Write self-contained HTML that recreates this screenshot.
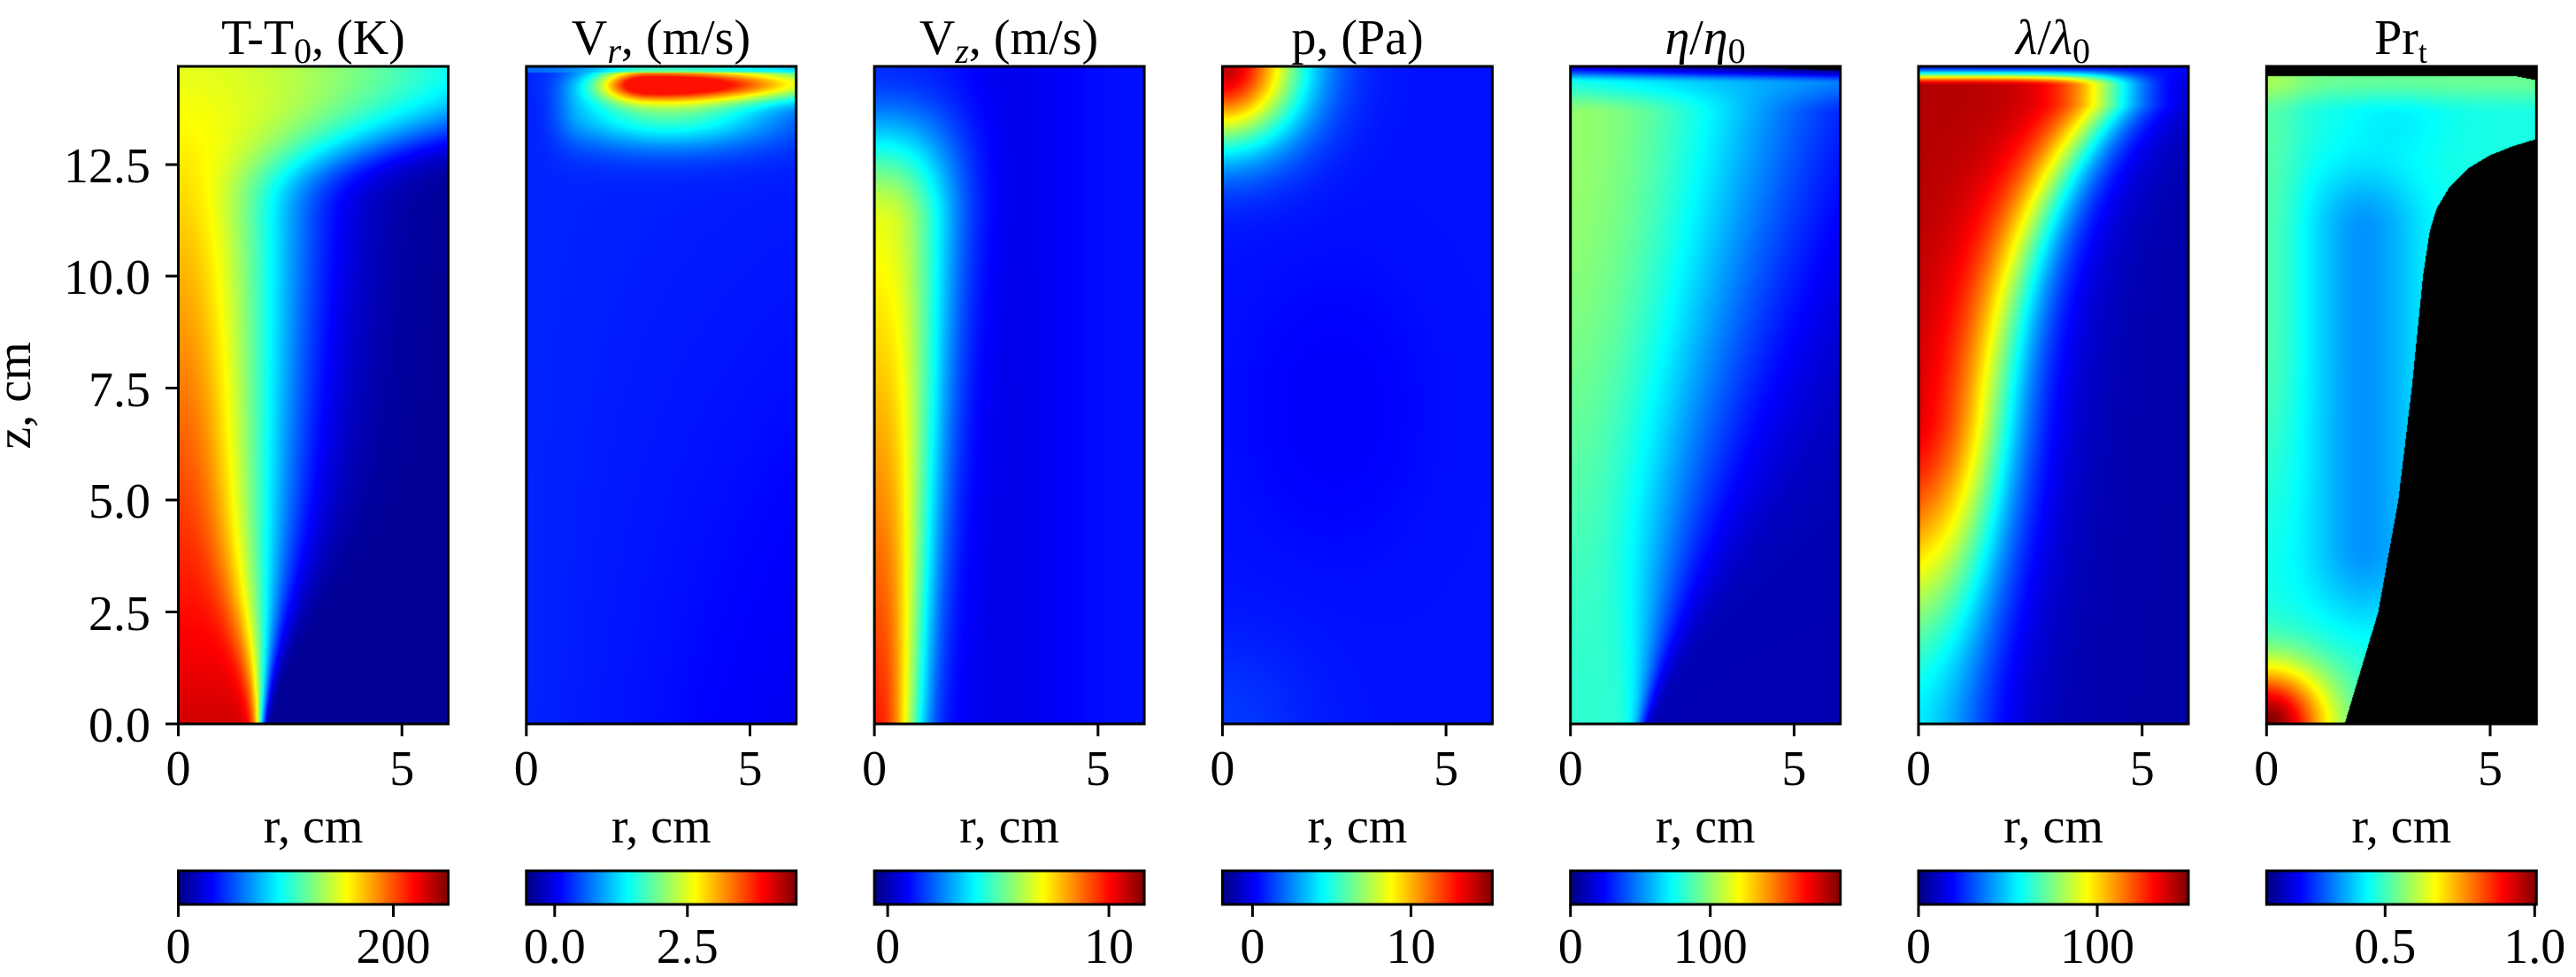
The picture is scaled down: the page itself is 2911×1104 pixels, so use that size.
<!DOCTYPE html>
<html><head><meta charset="utf-8">
<style>
html,body{margin:0;padding:0;background:#fff;}
body{width:2911px;height:1104px;position:relative;overflow:hidden;}
canvas{position:absolute;top:75px;}
svg{position:absolute;left:0;top:0;}
text{font-family:"Liberation Serif","DejaVu Serif",serif;fill:#000;}
</style></head><body>
<canvas id="c0" width="305" height="743" style="left:201.5px"></canvas>
<canvas id="c1" width="305" height="743" style="left:594.8px"></canvas>
<canvas id="c2" width="305" height="743" style="left:988.1px"></canvas>
<canvas id="c3" width="305" height="743" style="left:1381.4px"></canvas>
<canvas id="c4" width="305" height="743" style="left:1774.7px"></canvas>
<canvas id="c5" width="305" height="743" style="left:2168px"></canvas>
<canvas id="c6" width="305" height="743" style="left:2561.3px"></canvas>
<svg id="ov" width="2911" height="1104" xmlns="http://www.w3.org/2000/svg">
<defs>
<linearGradient id="jet" x1="0" x2="1" y1="0" y2="0">
<stop offset="0" stop-color="#00007f"/><stop offset="0.125" stop-color="#0000ff"/>
<stop offset="0.375" stop-color="#00ffff"/><stop offset="0.625" stop-color="#ffff00"/>
<stop offset="0.875" stop-color="#ff0000"/><stop offset="1" stop-color="#7f0000"/>
</linearGradient>
</defs>
<g id="g"></g>
<g font-size="56" text-anchor="end">
<text x="170" y="838">0.0</text>
<text x="170" y="712">2.5</text>
<text x="170" y="585">5.0</text>
<text x="170" y="459">7.5</text>
<text x="170" y="332">10.0</text>
<text x="170" y="206">12.5</text>
</g>
<g stroke="#000" stroke-width="3">
<line x1="187" y1="818" x2="201" y2="818"/><line x1="187" y1="691.5" x2="201" y2="691.5"/>
<line x1="187" y1="565" x2="201" y2="565"/><line x1="187" y1="438.5" x2="201" y2="438.5"/>
<line x1="187" y1="312" x2="201" y2="312"/><line x1="187" y1="186" x2="201" y2="186"/>
</g>
<text font-size="56" text-anchor="middle" transform="translate(34,447) rotate(-90)">z, cm</text>
<g font-size="56" text-anchor="middle">
<text x="354" y="61">T-T<tspan font-size="40" dy="10">0</tspan><tspan dy="-10">, (K)</tspan></text>
<text x="747" y="61">V<tspan font-size="40" dy="10" font-style="italic">r</tspan><tspan dy="-10">, (m/s)</tspan></text>
<text x="1140" y="61">V<tspan font-size="40" dy="10" font-style="italic">z</tspan><tspan dy="-10">, (m/s)</tspan></text>
<text x="1534" y="61">p, (Pa)</text>
<text x="1927" y="61"><tspan font-style="italic">η</tspan>/<tspan font-style="italic">η</tspan><tspan font-size="40" dy="10">0</tspan></text>
<text x="2320" y="61"><tspan font-style="italic">λ</tspan>/<tspan font-style="italic">λ</tspan><tspan font-size="40" dy="10">0</tspan></text>
<text x="2713" y="61">Pr<tspan font-size="36" dy="10">t</tspan></text>
</g>
</svg>
<script>
(function(){
var step=393.3, L0=201.5, W=305, TOP=75, BOT=818;
var g=document.getElementById('g'), NS='http://www.w3.org/2000/svg';
function el(t,a,txt){var e=document.createElementNS(NS,t);for(var k in a)e.setAttribute(k,a[k]);if(txt!==undefined)e.textContent=txt;g.appendChild(e);return e;}
var cb=[[[0,'0'],[243,'200']],[[32,'0.0'],[182,'2.5']],[[15,'0'],[265,'10']],[[34,'0'],[213,'10']],[[0,'0'],[158,'100']],[[0,'0'],[202,'100']],[[134,'0.5'],[303,'1.0']]];
for(var i=0;i<7;i++){
 var L=L0+step*i;
 el('rect',{x:L,y:TOP,width:W,height:BOT-TOP,fill:'none',stroke:'#000','stroke-width':3});
 [0,252.7].forEach(function(o,j){el('line',{x1:L+o,y1:BOT,x2:L+o,y2:BOT+14,stroke:'#000','stroke-width':3});
  el('text',{x:L+o,y:887,'font-size':56,'text-anchor':'middle'},j?'5':'0');});
 el('text',{x:L+152.5,y:952,'font-size':56,'text-anchor':'middle'},'r,  cm');
 el('rect',{x:L,y:984,width:W,height:38,fill:'url(#jet)',stroke:'#000','stroke-width':3});
 cb[i].forEach(function(t){el('line',{x1:L+t[0],y1:1022,x2:L+t[0],y2:1036,stroke:'#000','stroke-width':3});
  el('text',{x:L+t[0],y:1088,'font-size':56,'text-anchor':'middle'},t[1]);});
}
function cl(x){return x<0?0:x>1?1:x;}
function ss(a,b,x){var t=cl((x-a)/(b-a));return t*t*(3-2*t);}
function mix(a,b,t){return a+(b-a)*t;}
function interp(xs,ys,x){if(x<=xs[0])return ys[0];for(var k=1;k<xs.length;k++){if(x<=xs[k]){var t=(x-xs[k-1])/(xs[k]-xs[k-1]);return ys[k-1]+t*(ys[k]-ys[k-1]);}}return ys[ys.length-1];}
var bz=[0,1,2.5,5,7.5,10,11,11.5,12,12.4,12.7,12.9,13.05,13.15,13.3], br=[1.75,2.05,2.5,2.95,3.25,3.5,3.65,3.8,4.1,4.5,5.0,5.5,6.0,6.2,7];
var F=[
function(r,z){var c=0.92-0.022*z,w=1.85+0.07*z+6*Math.pow(ss(11,14.7,z),2),p=2+14*Math.exp(-z/1.2);
 return 0.02+(c-0.02)*Math.exp(-Math.pow(r/w,p));},
function(r,z){var v=0.16-0.05*(r/6)*(1-z/15);
 var wr=r<2.7?1.1:4.5;v+=0.68*Math.exp(-Math.pow((r-2.7)/wr,2)-Math.pow((z-14.3)/0.38,2));
 v+=0.3*Math.exp(-Math.pow((r-3.2)/2.4,2)-Math.pow((z-13.7)/0.8,2))*ss(0.1,1.2,r);
 if(z>14.55)v=mix(v,0.3,0.5);return Math.min(v,0.86);},
function(r,z){var bg=0.14-0.035*Math.exp(-Math.pow((r-3)/1.5,2));
 var c=z<11?0.85-0.022*z:0.608-0.44*ss(11,14.7,z);var w=1.0+0.06*z;
 return bg+(c-bg)*Math.exp(-Math.pow(r/w,2.5));},
function(r,z){var d2=r*r+(14.7-z)*(14.7-z);
 return 0.14+0.8*Math.exp(-d2/3.0)+0.04*Math.exp(-(r*r+z*z)/4)-0.02*Math.exp(-Math.pow((r-2.5)/2,2)-Math.pow((z-7)/3,2));},
function(r,z){var c=0.42+0.1*ss(0,13,z),w=1.6+0.25*z,p=2+8*Math.exp(-z/1.5);
 var v=0.05+(c-0.05)*Math.exp(-Math.pow(r/w,p));
 v=mix(v,(0.4-0.15*r/6)-0.3*ss(14.3,14.7,z),ss(13.6,14.4,z));return v;},
function(r,z){var c=0.4+0.55*ss(0,7,z),R=1.25+0.06*z+1.94*Math.pow(Math.min(z,13.8)/13.5,5);
 var v=0.04+(c-0.04)/(1+Math.exp((r-R)/0.6));
 v=mix(v,0.13,ss(14.25,14.7,z));return v;},
function(r,z){
 if(z>14.46)return -1; if(z>14.3&&r>5.6&&z>14.46-(r-5.6)*0.2)return -1;
 if(z<13.3&&r>interp(bz,br,z))return -1;
 var v=0.40-0.13*Math.exp(-Math.pow((r-2.2)/1.3,2))*ss(1,4,z)*(1-ss(11,13.5,z));
 v+=0.06*Math.exp(-Math.pow(r/0.8,2))*ss(3,9,z);
 v-=0.04*Math.exp(-Math.pow((r-2.8)/1.2,2)-Math.pow((z-13.4)/0.7,2));
 v+=0.08*ss(13.6,14.4,z);
 v+=0.6*Math.exp(-Math.pow(r/1.4,2)-Math.pow(z/1.3,2));
 return v;}
];
for(var i=0;i<7;i++){
 var cv=document.getElementById('c'+i),ctx=cv.getContext('2d'),im=ctx.createImageData(305,743),d=im.data;
 for(var y=0;y<743;y++){var z=(743-y-0.5)/50.6;
  for(var x=0;x<305;x++){var r=(x+0.5)/50.6,v=F[i](r,z),o=(y*305+x)*4,R,G,B;
   if(v<0){R=G=B=0;}else{v=cl(v);R=cl(1.5-Math.abs(4*v-3));G=cl(1.5-Math.abs(4*v-2));B=cl(1.5-Math.abs(4*v-1));R*=255;G*=255;B*=255;}
   d[o]=R;d[o+1]=G;d[o+2]=B;d[o+3]=255;}}
 ctx.putImageData(im,0,0);
}
})();
</script>
</body></html>
